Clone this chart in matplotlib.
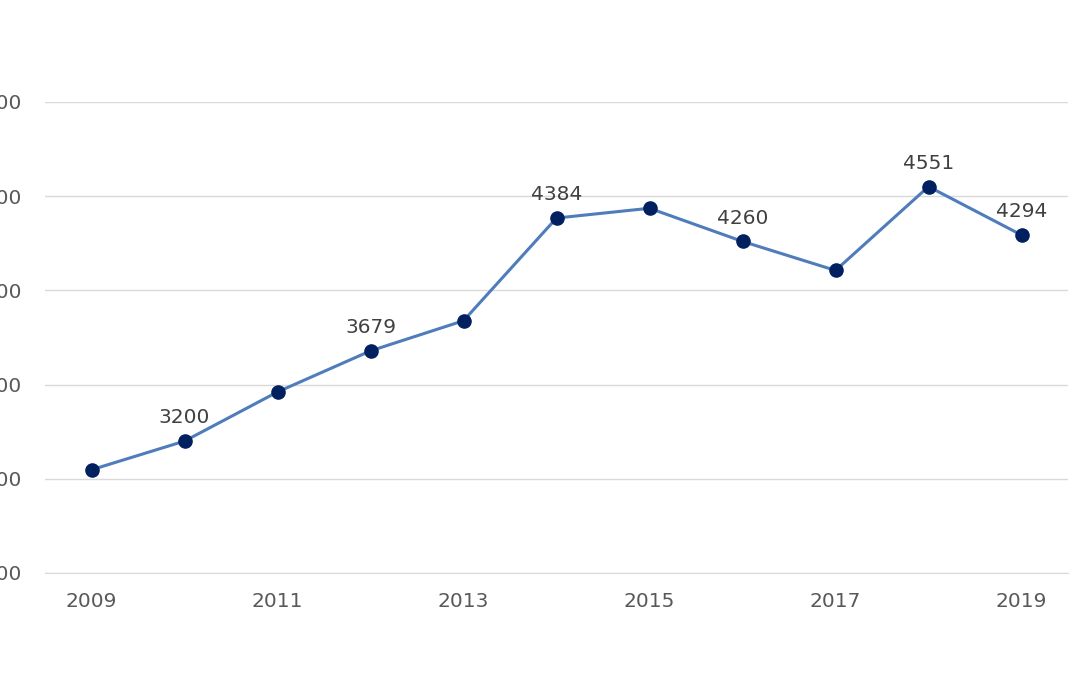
import matplotlib.pyplot as plt

years = [2009, 2010, 2011, 2012, 2013, 2014, 2015, 2016, 2017, 2018, 2019]
values = [3048, 3200, 3461, 3679, 3839, 4384, 4436, 4260, 4106, 4551, 4294]
labeled = {2010, 2012, 2014, 2016, 2018, 2019}

fig = plt.figure(figsize=(10.8, 6.75), dpi=100)
ax = fig.add_axes([45 / 1080, 1 - 573 / 675, 1023 / 1080, 471 / 675])

ax.plot(years, values, color="#4f7cba", linewidth=2.2, zorder=2)
ax.scatter(years, values, color="#002060", s=90, zorder=3, clip_on=False)

for x, v in zip(years, values):
    if x in labeled:
        ax.annotate(str(v), (x, v), xytext=(0, 10), textcoords="offset points",
                    ha="center", va="bottom", fontsize=14.5, color="#404040")

ax.set_xlim(2008.5, 2019.5)
ax.set_ylim(2500, 5000)
ax.set_xticks(range(2009, 2020, 2))
ax.set_yticks(range(2500, 5001, 500))
ax.yaxis.grid(True, color="#d9d9d9", linewidth=1)
ax.set_axisbelow(True)
for s in ["top", "right", "left"]:
    ax.spines[s].set_visible(False)
ax.spines["bottom"].set_color("#d9d9d9")
ax.tick_params(length=0, labelsize=14.5, labelcolor="#595959", pad=14)
# the reference crops the y labels at the left edge, only "00" shows
ax.tick_params(axis="y", pad=17)

fig.savefig("out.png", dpi=100)
